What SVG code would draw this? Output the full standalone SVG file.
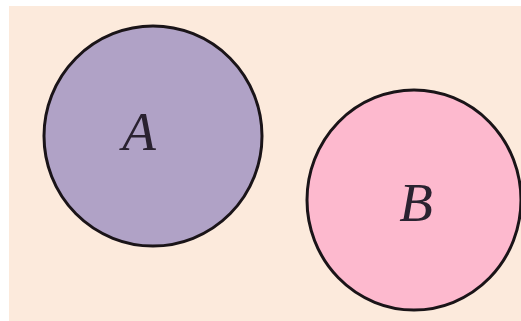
<svg xmlns="http://www.w3.org/2000/svg" width="521" height="321" viewBox="0 0 521 321">
<style>
.c{stroke:#1a1418;stroke-width:3}
.t{font-family:"Liberation Serif",serif;font-style:italic;font-size:55px;fill:#2a2230;text-anchor:middle}
</style>
<rect width="521" height="321" fill="#ffffff"/>
<rect x="9" y="6" width="512" height="315" fill="#FCEADC"/>
<g id="A">
<ellipse class="c" cx="153" cy="136" rx="109" ry="110" fill="#B0A2C6"/>
<text class="t" x="139" y="150">A</text>
</g>
<g id="B">
<ellipse class="c" cx="414" cy="200" rx="107" ry="110" fill="#FDB9CE"/>
<text class="t" x="416" y="221">B</text>
</g>
<g id="connectors"/>
</svg>
